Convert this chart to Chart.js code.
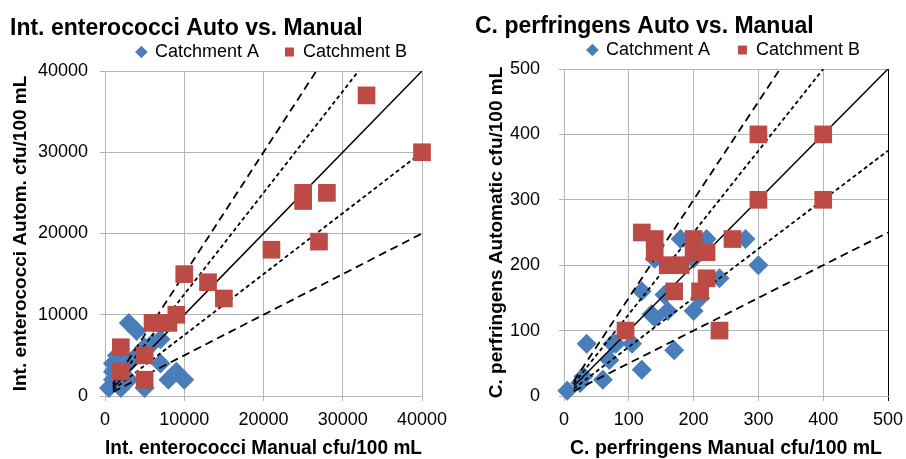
<!DOCTYPE html>
<html>
<head>
<meta charset="utf-8">
<script src="https://cdn.jsdelivr.net/npm/chart.js@4"></script>
<style>
  html, body { margin: 0; padding: 0; background: #fff; overflow: hidden; }
  .box { position: absolute; top: 0; width: 453px; height: 459px; }
</style>
</head>
<body>
<div class="box" style="left:0"><canvas id="entChart" width="453" height="459"></canvas></div>
<div class="box" style="left:453px"><canvas id="perfChart" width="453" height="459"></canvas></div>
<script>
/* ── data: Int. enterococci (manual, automatic) ── */
const entCatchA = [
  [500, 1000], [1000, 2000], [1000, 3000], [2000, 1000], [3000, 2000],
  [1000, 4000], [1500, 5000], [3000, 4000], [4000, 5000], [5000, 6000],
  [6000, 6500], [7000, 7000], [3000, 9000], [4000, 8000], [5000, 1000],
  [7000, 4000], [8000, 2000], [9000, 3000], [10000, 2000]
];
const entCatchB = [
  [2000, 6000], [2000, 3000], [5000, 5000], [5000, 2000], [6000, 9000],
  [7000, 9000], [8000, 9000], [9000, 10000], [10000, 15000], [13000, 14000],
  [15000, 12000], [21000, 18000], [27000, 19000], [25000, 25000], [25000, 24000],
  [28000, 25000], [33000, 37000], [40000, 30000]
];
const entTicks = [0, 10000, 20000, 30000, 40000];
const entLineEqual   = [[1000, 1000], [40000, 40000]];
const entLinePlus50  = [[1000, 1500], [26667, 40000]];
const entLinePlus25  = [[1000, 1250], [32000, 40000]];
const entLineMinus25 = [[1000, 750],  [40000, 30000]];
const entLineMinus50 = [[1000, 500],  [40000, 20000]];

/* ── data: C. perfringens (manual, automatic) ── */
const perfCatchA = [
  [5, 8], [30, 30], [25, 20], [35, 80], [60, 25], [70, 55], [75, 80], [80, 80],
  [105, 80], [120, 40], [120, 160], [140, 120], [135, 125], [160, 130], [155, 155],
  [170, 70], [200, 130], [210, 150], [240, 180], [300, 200], [280, 240], [220, 240],
  [180, 240], [140, 210], [200, 210]
];
const perfCatchB = [
  [120, 250], [140, 240], [140, 220], [160, 200], [180, 200], [200, 240], [200, 220],
  [220, 220], [260, 240], [220, 180], [210, 160], [170, 160], [95, 100], [240, 100],
  [300, 400], [400, 400], [300, 300], [400, 300]
];
const perfTicks = [0, 100, 200, 300, 400, 500];
const perfLineEqual   = [[15, 15],   [500, 500]];
const perfLinePlus50  = [[15, 22.5], [333.3, 500]];
const perfLinePlus25  = [[15, 18.75], [400, 500]];
const perfLineMinus25 = [[15, 11.25], [500, 375]];
const perfLineMinus50 = [[15, 7.5],  [500, 250]];

const FONT  = "'Liberation Sans', Arial, sans-serif";
const BLUE  = '#4A7EBB';
const RED   = '#BC4A45';
const GRID  = '#B4B4B4';
const LONG  = [8, 5];
const SHORT = [4, 3];

const pts = arr => arr.map(p => ({ x: p[0], y: p[1] }));

function refLine(data, dash) {
  return {
    label: '', data: pts(data), showLine: true, fill: false,
    pointRadius: 0, pointHoverRadius: 0,
    borderColor: '#000', borderWidth: dash ? 1.8 : 1.5,
    borderDash: dash || [], order: 1,
  };
}

function buildChart(id, s) {
  return new Chart(document.getElementById(id), {
    type: 'scatter',
    data: {
      datasets: [
        { label: 'Catchment A', data: pts(s.a), pointStyle: 'rectRot', pointRadius: 10,
          backgroundColor: BLUE, borderColor: BLUE, borderWidth: 0, order: 2, clip: false },
        { label: 'Catchment B', data: pts(s.b), pointStyle: 'rect', pointRadius: 12.5,
          backgroundColor: RED, borderColor: RED, borderWidth: 0, order: 0, clip: false },
        ...s.lines.map(l => refLine(l[0], l[1])),
      ],
    },
    options: {
      responsive: false,
      animation : false,
      devicePixelRatio: 1,
      layout: { padding: { left: s.padL, right: s.padR, top: 0, bottom: 0 } },
      plugins: {
        tooltip: { enabled: false },
        title: {
          display: true, text: s.title, align: 'start', color: '#000',
          font: { family: FONT, size: 23, weight: 'bold', lineHeight: 1.2 },
          padding: { top: 11.2, bottom: s.titleBottom },
        },
        legend: {
          position: 'top', align: 'end',
          labels: {
            usePointStyle: true, boxWidth: 9, boxHeight: 9, padding: s.legPad,
            color: '#000', font: { family: FONT, size: 18 },
            filter: item => item.datasetIndex < 2,
            sort  : (a, b) => a.datasetIndex - b.datasetIndex,
          },
        },
      },
      scales: {
        x: {
          type: 'linear', min: 0, max: s.ticks[s.ticks.length - 1],
          afterBuildTicks: sc => { sc.ticks = s.ticks.map(v => ({ value: v })); },
          afterFit: sc => { sc.height = 63; sc.paddingRight = s.plotRight; },
          ticks: { color: '#000', padding: 8, font: { family: FONT, size: 18 },
                   callback: v => String(v) },
          grid: { color: c => (s.darkEdge && c.tick && c.tick.value === s.ticks[s.ticks.length - 1]) ? '#000' : GRID,
                  tickLength: 5, lineWidth: 1 },
          border: { color: GRID },
          title: { display: true, text: s.xTitle, color: '#000',
                   font: { family: FONT, size: 19.5, weight: 'bold', lineHeight: 1.2 },
                   padding: { top: 0, bottom: -1.7 } },
        },
        y: {
          type: 'linear', min: 0, max: s.ticks[s.ticks.length - 1],
          afterBuildTicks: sc => { sc.ticks = s.ticks.map(v => ({ value: v })); },
          afterFit: sc => { sc.width = s.yWidth; sc.paddingTop = s.plotTop; },
          ticks: { color: '#000', padding: s.yTickPad, font: { family: FONT, size: 18 },
                   callback: v => String(v) },
          grid: { color: GRID, tickLength: 5, lineWidth: 1 },
          border: { color: GRID },
          title: { display: true, text: s.yTitle, color: '#000',
                   font: { family: FONT, size: 19, weight: 'bold', lineHeight: 1.2 },
                   padding: { top: s.yTitlePad, bottom: 0 } },
        },
      },
    },
  });
}

buildChart('entChart', {
  title: 'Int. enterococci Auto vs. Manual',
  xTitle: 'Int. enterococci Manual cfu/100 mL',
  yTitle: 'Int. enterococci Autom. cfu/100 mL',
  a: entCatchA, b: entCatchB, ticks: entTicks,
  lines: [[entLineEqual], [entLinePlus50, LONG], [entLinePlus25, SHORT],
          [entLineMinus25, SHORT], [entLineMinus50, LONG]],
  padL: 10, padR: 20, plotRight: 31, plotTop: 71, yWidth: 95,
  titleBottom: -25.2, legPad: 26, yTickPad: 12, yTitlePad: -0.4, darkEdge: false,
});

buildChart('perfChart', {
  title: 'C. perfringens Auto vs. Manual',
  xTitle: 'C. perfringens Manual cfu/100 mL',
  yTitle: 'C. perfringens Automatic cfu/100 mL',
  a: perfCatchA, b: perfCatchB, ticks: perfTicks,
  lines: [[perfLineEqual], [perfLinePlus50, LONG], [perfLinePlus25, SHORT],
          [perfLineMinus25, SHORT], [perfLineMinus50, LONG]],
  padL: 22, padR: 18, plotRight: 18, plotTop: 69, yWidth: 89,
  titleBottom: -27.2, legPad: 28, yTickPad: 19, yTitlePad: 10.6, darkEdge: true,
});
</script>
</body>
</html>
